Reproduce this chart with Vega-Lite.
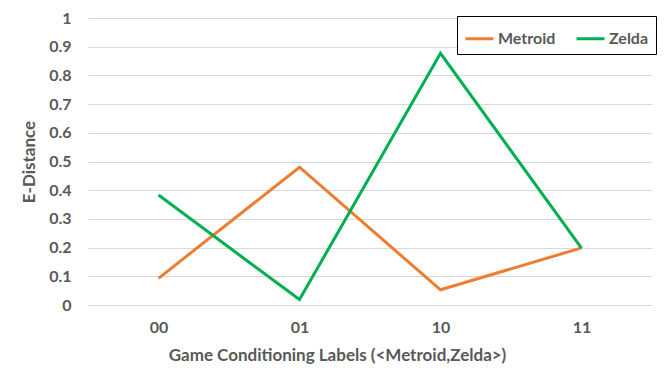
{
  "$schema": "https://vega.github.io/schema/vega-lite/v6.json",
  "width": 564,
  "height": 287,
  "autosize": {"type": "none"},
  "padding": {"left": 88, "top": 18, "right": 19, "bottom": 81},
  "background": "white",
  "config": {
    "view": {"stroke": null},
    "font": "Lato",
    "axis": {"labelFont": "Lato", "titleFont": "Lato", "labelColor": "#595959", "titleColor": "#595959", "labelFontWeight": "bold", "titleFontWeight": "bold"}
  },
  "data": {
    "values": [
      {"label": "00", "series": "Metroid", "value": 0.093},
      {"label": "01", "series": "Metroid", "value": 0.48},
      {"label": "10", "series": "Metroid", "value": 0.053},
      {"label": "11", "series": "Metroid", "value": 0.199},
      {"label": "00", "series": "Zelda", "value": 0.383},
      {"label": "01", "series": "Zelda", "value": 0.019},
      {"label": "10", "series": "Zelda", "value": 0.877},
      {"label": "11", "series": "Zelda", "value": 0.198}
    ]
  },
  "mark": {"type": "line", "strokeWidth": 3},
  "encoding": {
    "x": {
      "field": "label", "type": "ordinal", "sort": ["00", "01", "10", "11"],
      "scale": {"type": "point", "padding": 0.5},
      "axis": {
        "title": "Game Conditioning  Labels (<Metroid,Zelda>)",
        "titleFontSize": 17, "titlePadding": 12, "titleX": 249, "titleAnchor": "middle",
        "labelFontSize": 16, "labelPadding": 14, "labelAngle": 0,
        "ticks": false, "domain": true, "domainColor": "#d9d9d9", "grid": false
      }
    },
    "y": {
      "field": "value", "type": "quantitative",
      "scale": {"domain": [0, 1], "nice": false},
      "axis": {
        "title": "E-Distance", "titleFontSize": 17, "titlePadding": 10,
        "values": [0, 0.1, 0.2, 0.3, 0.4, 0.5, 0.6, 0.7, 0.8, 0.9, 1],
        "labelExpr": "datum.value == 0 ? '0' : datum.value == 1 ? '1' : format(datum.value, '.1f')",
        "labelFontSize": 16, "labelPadding": 17,
        "ticks": false, "domain": false, "grid": true, "gridColor": "#d9d9d9", "gridWidth": 1
      }
    },
    "color": {
      "field": "series", "type": "nominal",
      "scale": {"domain": ["Metroid", "Zelda"], "range": ["#ED7D31", "#00B050"]},
      "legend": {
        "title": null, "orient": "none", "direction": "horizontal",
        "legendX": 369, "legendY": -2,
        "symbolType": "stroke", "symbolSize": 784, "symbolStrokeWidth": 3,
        "labelFontSize": 16, "labelFontWeight": "bold", "labelColor": "#595959", "labelFont": "Lato",
        "labelOffset": 3, "columnPadding": 14,
        "padding": 7, "strokeColor": "black", "fillColor": "white"
      }
    }
  }
}
